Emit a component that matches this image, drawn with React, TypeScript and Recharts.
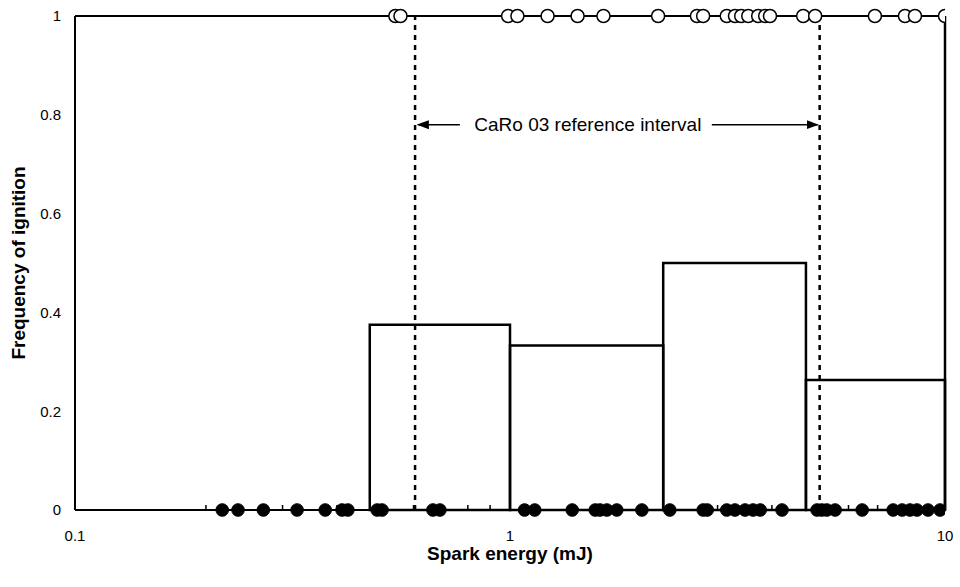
import React from 'react';
import {
  ComposedChart, XAxis, YAxis, Scatter, Line, ReferenceLine, ReferenceArea, ReferenceDot,
} from 'recharts';

// Spark energies (mJ) of tests with ignition (frequency 1)
const ignitionEnergies = [0.545, 0.56, 0.99, 1.04, 1.22, 1.43, 1.64, 2.19, 2.69, 2.78, 3.15, 3.29, 3.4, 3.53, 3.72, 3.86, 3.96, 4.72, 5.03, 6.9, 8.09, 8.53, 10.0];
// Spark energies (mJ) of tests without ignition (frequency 0)
const nonIgnitionEnergies = [0.218, 0.237, 0.271, 0.324, 0.376, 0.411, 0.424, 0.495, 0.508, 0.665, 0.69, 1.08, 1.14, 1.39, 1.57, 1.61, 1.67, 1.76, 2.01, 2.33, 2.78, 2.84, 3.15, 3.29, 3.47, 3.62, 3.76, 4.22, 5.08, 5.21, 5.35, 5.59, 6.45, 7.6, 7.97, 8.31, 8.62, 9.14, 9.74];
// Histogram bins of ignition frequency
const binStarts = [0.476, 1.0, 2.25, 4.79];
const binEnds = [1.0, 2.25, 4.79, 10.0];
const binFrequencies = [0.375, 0.333, 0.5, 0.263];
// Reference interval
const intervalBounds = [0.605, 5.15];
const intervalLabel = 'CaRo 03 reference interval';
const intervalLabelX = 1.51;
const intervalLabelY = 0.78;
const leftArrow = [0.767, 0.614];
const rightArrow = [2.91, 5.1];
// Axes
const xTicks = [0.1, 0.2, 0.3, 0.4, 0.5, 0.6, 0.7, 0.8, 0.9, 1, 2, 3, 4, 5, 6, 7, 8, 9, 10];
const xMajorTicks = [0.1, 1, 10];
const yTicks = [0, 0.2, 0.4, 0.6, 0.8, 1];
const topLine = [{ x: 0.1, y: 1 }, { x: 10, y: 1 }];

const ignitionData = ignitionEnergies.map((x) => ({ x, y: 1 }));
const nonIgnitionData = nonIgnitionEnergies.map((x) => ({ x, y: 0 }));

const FONT = 'Arial, "Liberation Sans", sans-serif';

const XTick = (props: any) => {
  const { x, y, payload } = props;
  const v = payload.value;
  const major = xMajorTicks.includes(v);
  const axisY = y - 8;
  return (
    <g>
      <line x1={x} x2={x} y1={axisY} y2={axisY - 5} stroke="#000" strokeWidth={1.5} />
      {major && (
        <text x={x} y={axisY + 31} textAnchor="middle" fontSize={15} fontFamily={FONT} fill="#000">
          {String(v)}
        </text>
      )}
    </g>
  );
};

const OpenCircle = (props: any) => (
  <circle cx={props.cx} cy={props.cy} r={6.5} fill="#fff" stroke="#000" strokeWidth={1.5} />
);
const FilledCircle = (props: any) => (
  <circle cx={props.cx} cy={props.cy} r={6.3} fill="#000" stroke="#000" strokeWidth={1} />
);

const ArrowShape = (props: any) => (
  <line x1={props.x1} y1={props.y1} x2={props.x2} y2={props.y2} stroke="#000" strokeWidth={1.5} markerEnd="url(#arrowHead)" />
);

export default function App() {
  return (
    <div style={{ position: 'absolute', left: 0, top: 0, background: '#fff' }}>
      <ComposedChart width={960} height={587} margin={{ top: 16, right: 15, bottom: 47, left: 0 }}>
        <defs>
          <marker id="arrowHead" viewBox="0 0 12 10" refX="11" refY="5" markerWidth="12" markerHeight="10" markerUnits="userSpaceOnUse" orient="auto">
            <path d="M0,0.5 L12,5 L0,9.5 z" fill="#000" />
          </marker>
        </defs>
        <XAxis
          dataKey="x"
          type="number"
          scale="log"
          domain={[0.1, 10]}
          ticks={xTicks}
          interval={0}
          allowDataOverflow
          height={30}
          axisLine={{ stroke: '#000', strokeWidth: 2 }}
          tickLine={false}
          tick={<XTick />}
          label={{
            content: (p: any) => (
              <text x={p.viewBox.x + p.viewBox.width / 2} y={p.viewBox.y + 43} textAnchor="middle" dominantBaseline="central" fontSize={19} fontWeight="bold" fontFamily={FONT} fill="#000">
                Spark energy (mJ)
              </text>
            ),
          }}
        />
        <YAxis
          dataKey="y"
          type="number"
          domain={[0, 1]}
          ticks={yTicks}
          width={75}
          axisLine={{ stroke: '#000', strokeWidth: 2 }}
          tickLine={false}
          tickMargin={8}
          tick={{ fontSize: 15, fill: '#000', fontFamily: FONT }}
          label={{
            content: (p: any) => {
              const cx = p.viewBox.x + 18;
              const cy = p.viewBox.y + p.viewBox.height / 2;
              return (
                <text x={cx} y={cy} transform={`rotate(-90, ${cx}, ${cy})`} textAnchor="middle" dominantBaseline="central" fontSize={19} fontWeight="bold" fontFamily={FONT} fill="#000">
                  Frequency of ignition
                </text>
              );
            },
          }}
        />
        {binFrequencies.map((f, i) => (
          <ReferenceArea key={i} x1={binStarts[i]} x2={binEnds[i]} y1={0} y2={f} fill="none" fillOpacity={0} stroke="#000" strokeWidth={2.5} ifOverflow="visible" />
        ))}
        {intervalBounds.map((b) => (
          <ReferenceLine key={b} x={b} stroke="#000" strokeWidth={2.5} strokeDasharray="5 5" />
        ))}
        <ReferenceLine x={10} stroke="#000" strokeWidth={2.5} />
        <ReferenceLine segment={[{ x: leftArrow[0], y: intervalLabelY }, { x: leftArrow[1], y: intervalLabelY }]} shape={ArrowShape} />
        <ReferenceLine segment={[{ x: rightArrow[0], y: intervalLabelY }, { x: rightArrow[1], y: intervalLabelY }]} shape={ArrowShape} />
        <ReferenceDot x={intervalLabelX} y={intervalLabelY} r={0} fill="none" stroke="none"
          label={{ value: intervalLabel, position: 'center', fontSize: 19, fill: '#000', fontFamily: FONT }} />
        <Line data={topLine} dataKey="y" stroke="#000" strokeWidth={2} dot={false} isAnimationActive={false} />
        <Scatter data={nonIgnitionData} shape={FilledCircle} isAnimationActive={false} />
        <Scatter data={ignitionData} shape={OpenCircle} isAnimationActive={false} />
      </ComposedChart>
    </div>
  );
}
